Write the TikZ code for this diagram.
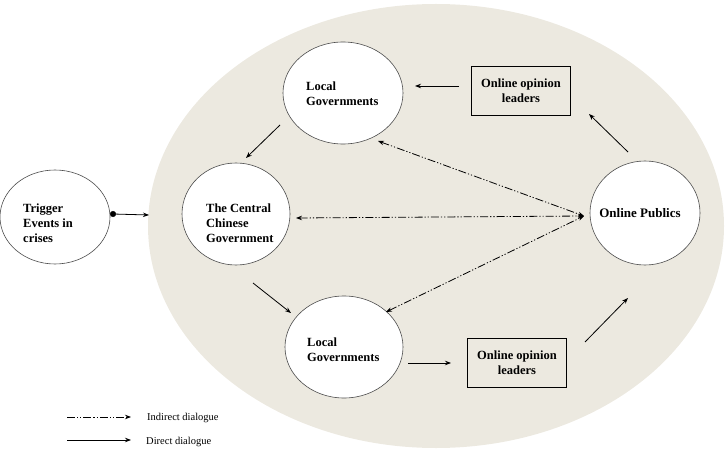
\documentclass[tikz,border=0pt]{standalone}
\usepackage{fontspec}
\setmainfont{Liberation Serif}
\usetikzlibrary{arrows.meta}

\definecolor{bgbeige}{RGB}{236,233,224}

\begin{document}
\begin{tikzpicture}[x=1pt,y=-1pt,
    actor/.style={draw=black!70,line width=0.6pt,fill=white},
    lbl/.style={align=left,inner sep=0pt,font=\fontsize{12.5}{14.8}\selectfont\bfseries},
    leader/.style={draw,line width=0.7pt,minimum width=99pt,minimum height=49pt,align=center,
        font=\fontsize{12.5}{14.8}\selectfont\bfseries},
    direct/.style={-{Stealth[length=6pt,width=4.5pt]},line width=0.8pt},
    indirect/.style={{Stealth[length=6pt,width=4.5pt]}-{Stealth[length=6pt,width=4.5pt]},line width=0.8pt,
        dash pattern=on 8pt off 2pt on 1.2pt off 2pt on 1.2pt off 2pt}]
    \useasboundingbox (0,0) rectangle (725,457);
    \fill[bgbeige](436,226)ellipse[x radius=288,y radius=222];

    \draw[actor](55,217)ellipse[x radius=55,y radius=47];
    \node[lbl,anchor=west] (trig) at(23,223){Trigger\\Events in\\crises};

    \draw[actor](343,93)ellipse[x radius=60,y radius=51];
    \node[lbl,anchor=west] (lgtop) at(306,94){Local\\Governments};

    \draw[actor](236,214)ellipse[x radius=54,y radius=51];
    \node[lbl,anchor=west] (cent) at(206,223){The Central\\Chinese\\Government};

    \draw[actor](344,347)ellipse[x radius=59,y radius=51];
    \node[lbl,anchor=west] (lgbot) at(307,350){Local\\Governments};

    \draw[actor](645,213)ellipse[x radius=55,y radius=52];
    \node[lbl,font=\fontsize{13}{15}\selectfont\bfseries] (pub) at(640,213){Online Publics};

    \node[leader] (oltop) at(521,91){Online opinion\\leaders};
    \node[leader] (olbot) at(517,363){Online opinion\\leaders};

    % direct dialogue
    \coordinate (a) at(459,86);
    \coordinate (b) at(415,86);
    \coordinate (c) at(628,152);
    \coordinate (d) at(589,114);
    \coordinate (e) at(280,125);
    \coordinate (f) at(246,158);
    \coordinate (g) at(253,283);
    \coordinate (h) at(291,313);
    \coordinate (i) at(408,363);
    \coordinate (j) at(451,363);
    \coordinate (k) at(585,342);
    \coordinate (l) at(628,298);
    \draw[direct](a)--(b);
    \draw[direct](c)--(d);
    \draw[direct](e)--(f);
    \draw[direct](g)--(h);
    \draw[direct](i)--(j);
    \draw[direct](k)--(l);

    % trigger
    \coordinate (t) at(113,214);
    \coordinate (u) at(149,215);
    \filldraw[black](t)circle(2.8pt);
    \draw[direct](t)--(u);

    % indirect dialogue
    \coordinate (hub) at(584,216);
    \coordinate (m) at(378,141);
    \coordinate (n) at(296,218);
    \coordinate (o) at(386,312);
    \draw[indirect](m)--(hub);
    \draw[indirect](n)--(hub);
    \draw[indirect](o)--(hub);

    % legend
    \coordinate (p) at(67,417);
    \coordinate (q) at(131,417);
    \coordinate (r) at(67,440);
    \coordinate (s) at(131,440);
    \draw[line width=0.8pt,dash pattern=on 8pt off 2pt on 1.2pt off 2pt on 1.2pt off 2pt,-{Stealth[length=6pt,width=4.5pt]}](p)--(q);
    \draw[direct](r)--(s);
    \node[right,inner sep=0pt,font=\fontsize{10.5}{12}\selectfont] (lind) at(147,418){Indirect dialogue};
    \node[right,inner sep=0pt,font=\fontsize{10.5}{12}\selectfont] (ldir) at(146,442){Direct dialogue};
\end{tikzpicture}
\end{document}
